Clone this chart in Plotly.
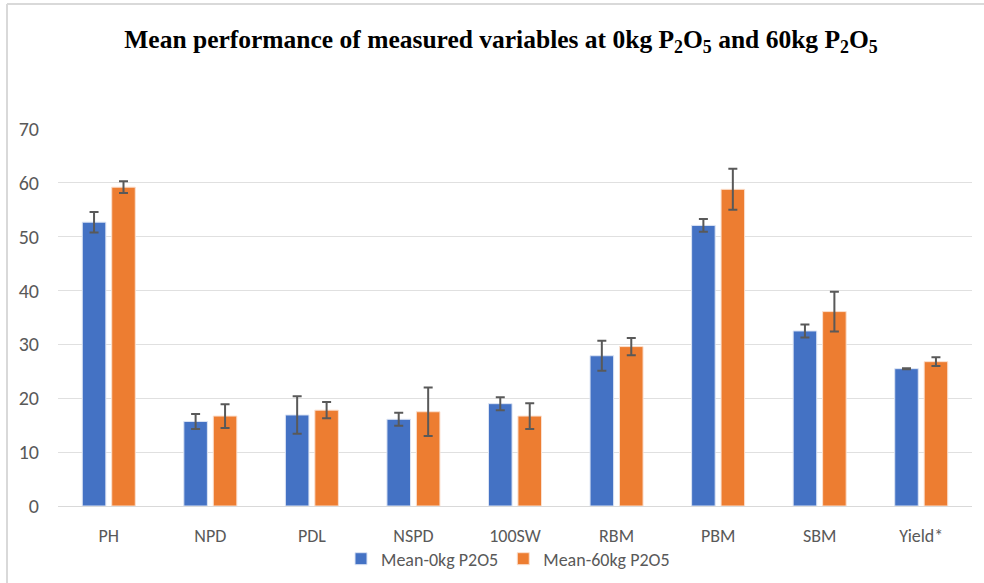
import plotly.graph_objects as go

categories = ["PH", "NPD", "PDL", "NSPD", "100SW", "RBM", "PBM", "SBM", "Yield*"]
mean_0kg = [52.7, 15.7, 16.9, 16.1, 19.0, 27.9, 52.1, 32.5, 25.5]
err_0kg = [1.9, 1.4, 3.5, 1.2, 1.2, 2.8, 1.2, 1.2, 0.1]
mean_60kg = [59.2, 16.7, 17.8, 17.5, 16.7, 29.6, 58.8, 36.1, 26.8]
err_60kg = [1.1, 2.2, 1.5, 4.5, 2.4, 1.6, 3.8, 3.7, 0.8]
y_ticks = [0, 10, 20, 30, 40, 50, 60, 70]

W, H = 984, 583
L, R, T, B = 58, 12, 129, 77
pw, ph = W - L - R, H - T - B

def px_x(x):
    return (x - L) / pw

def px_y(y):
    return (H - B - y) / ph

font_sans = "Carlito, Calibri, Liberation Sans, Arial"
gray = "#595959"

err_style = dict(type="data", thickness=2, width=4.5, color="#595959")

fig = go.Figure()
fig.add_trace(go.Bar(
    x=categories, y=mean_0kg, name="Mean-0kg P2O5",
    marker=dict(color="#4472C4", line=dict(color="#DCE4F4", width=1)),
    error_y=dict(array=err_0kg, **err_style),
))
fig.add_trace(go.Bar(
    x=categories, y=mean_60kg, name="Mean-60kg P2O5",
    marker=dict(color="#ED7D31", line=dict(color="#FBE0CF", width=1)),
    error_y=dict(array=err_60kg, **err_style),
))

fig.update_layout(
    width=W, height=H,
    margin=dict(l=L, r=R, t=T, b=B, pad=0, autoexpand=False),
    paper_bgcolor="white", plot_bgcolor="white",
    barmode="group", bargap=0.42, bargroupgap=0.2,
    title=dict(
        text="Mean performance of measured variables at 0kg P<sub>2</sub>O<sub>5</sub> and 60kg P<sub>2</sub>O<sub>5</sub>",
        font=dict(family="Liberation Serif, Times New Roman, serif", size=25.5, color="black", weight="bold"),
        x=501 / W, xanchor="center", xref="container",
        y=1 - 39 / H, yanchor="middle", yref="container",
    ),
    font=dict(family=font_sans, color=gray, size=18),
    showlegend=True,
    legend=dict(
        orientation="h", x=508 / W, xanchor="center", xref="container",
        y=1 - 559 / H, yanchor="middle", yref="container",
        font=dict(family=font_sans, size=18, color=gray),
        bgcolor="rgba(0,0,0,0)", borderwidth=0,
        itemwidth=30, tracegroupgap=0,
    ),
    xaxis=dict(
        showgrid=False, showline=True, linecolor="#D9D9D9", linewidth=1,
        ticks="", tickfont=dict(family=font_sans, size=18, color=gray),
        ticklabelstandoff=13,
    ),
    yaxis=dict(
        range=[0, 70], tickvals=y_ticks, showgrid=True, gridcolor="#E0E0E0", gridwidth=1,
        zeroline=False, showline=False, ticks="",
        tickfont=dict(family=font_sans, size=20, color=gray),
        ticklabelstandoff=18,
    ),
    shapes=[
        dict(type="line", xref="paper", yref="paper", x0=px_x(7), x1=px_x(7), y0=px_y(H + 5), y1=px_y(4),
             line=dict(color="#D9D9D9", width=2)),
        dict(type="line", xref="paper", yref="paper", x0=px_x(7), x1=px_x(W + 5), y0=px_y(4), y1=px_y(4),
             line=dict(color="#D9D9D9", width=2)),
    ],
)

fig.write_html("out.html", config={"displayModeBar": False},
               post_script="document.body.style.margin='0px';document.body.style.overflow='hidden';")
